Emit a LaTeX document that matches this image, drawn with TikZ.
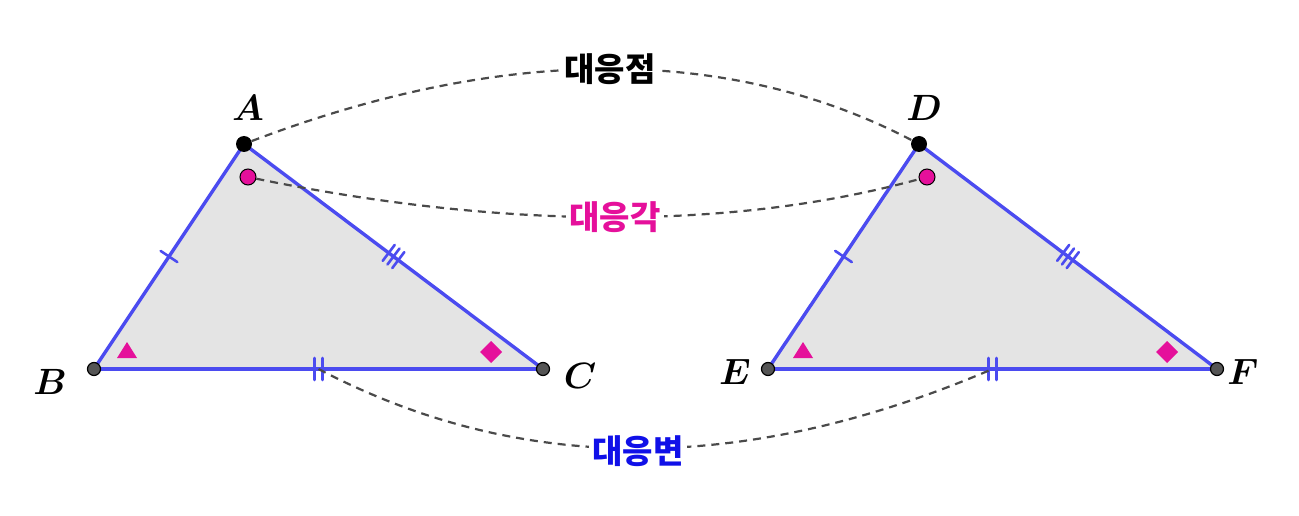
\documentclass[tikz,border=0pt]{standalone}
\usepackage{fontspec}
\usepackage{bm}
\usepackage{graphicx}
\newfontfamily\cjk{Noto Sans CJK KR}
\usetikzlibrary{decorations.markings,calc}
\definecolor{edgeblue}{HTML}{4B4BF0}
\definecolor{fillgray}{HTML}{E4E4E4}
\definecolor{angpink}{HTML}{E5109B}
\definecolor{sideblue}{HTML}{1010E8}
\definecolor{dashgray}{HTML}{4A4A4A}
\definecolor{ptgray}{HTML}{555555}
\newcommand{\vlab}[1]{\scalebox{1.47}{\fontsize{24.88}{28}\selectfont$\bm{#1}$}}
\tikzset{
  edge/.style={draw=edgeblue, line width=3.4pt, line cap=round},
  tickline/.style={draw=edgeblue, line width=2.6pt},
  tickone/.style={postaction={decorate, decoration={markings, mark=at position 0.5 with {\draw[tickline] (0,-10) -- (0,10);}}}},
  ticktwo/.style={postaction={decorate, decoration={markings, mark=at position 0.5 with {\draw[tickline] (-4,-11) -- (-4,11); \draw[tickline] (4,-11) -- (4,11);}}}},
  tickthree/.style={postaction={decorate, decoration={markings, mark=at position 0.5 with {\draw[tickline] (-6,-10) -- (-6,10); \draw[tickline] (0,-10) -- (0,10); \draw[tickline] (6,-10) -- (6,10);}}}},
  conn/.style={draw=dashgray, dash pattern=on 8pt off 6pt, line width=2.2pt},
  vlabel/.style={inner sep=0pt},
  korlab/.style={font=\cjk\bfseries\fontsize{33}{36}\selectfont, fill=white, inner sep=3pt},
  topdot/.style={circle, fill=black, minimum size=16pt, inner sep=0pt},
  basedot/.style={circle, fill=ptgray, draw=black, line width=1.2pt, minimum size=13pt, inner sep=0pt},
  angdot/.style={circle, fill=angpink, draw=black, line width=1pt, minimum size=16pt, inner sep=0pt},
  angmark/.style={fill=angpink}
}
\begin{document}
\begin{tikzpicture}[x=1pt,y=-1pt]
\useasboundingbox[fill=white] (0,0) rectangle (1299,516);
% vertex coordinates
\coordinate (pA) at (244,144);
\coordinate (pB) at (94,369);
\coordinate (pC) at (543,369);
\coordinate (pD) at (919,144);
\coordinate (pE) at (768,369);
\coordinate (pF) at (1217,369);
% fills
\fill[fillgray] (pA) -- (pB) -- (pC) -- cycle;
\fill[fillgray] (pD) -- (pE) -- (pF) -- cycle;
% angle markers
\node[angdot] (angA) at (248,177) {};
\node[angdot] (angD) at (927,177) {};
\fill[angmark] (117,358) -- (137,358) -- (127,342) -- cycle;
\fill[angmark] (491,341) -- (502,352) -- (491,363) -- (480,352) -- cycle;
\fill[angmark] (793,358) -- (813,358) -- (803,342) -- cycle;
\fill[angmark] (1167,341) -- (1178,352) -- (1167,363) -- (1156,352) -- cycle;
% midpoints
\coordinate (mBC) at ($(pB)!0.5!(pC)$);
\coordinate (mEF) at ($(pE)!0.5!(pF)$);
% edges
\draw[edge, tickone] (pB) -- (pA);
\draw[edge, tickthree] (pA) -- (pC);
\draw[edge, ticktwo] (pB) -- (pC);
\draw[edge, tickone] (pE) -- (pD);
\draw[edge, tickthree] (pD) -- (pF);
\draw[edge, ticktwo] (pE) -- (pF);
% vertex dots
\node[topdot] (A) at (pA) {};
\node[topdot] (D) at (pD) {};
\node[basedot] (B) at (pB) {};
\node[basedot] (C) at (pC) {};
\node[basedot] (E) at (pE) {};
\node[basedot] (F) at (pF) {};
% dashed connectors
\draw[conn] (A) .. controls (504,45) and (729,45) .. (D);
\draw[conn] (angA) .. controls (507,230) and (733,230) .. (angD);
\draw[conn] (mBC) .. controls (520,475) and (745,475) .. (mEF);
% connector labels
\node[korlab, text=black] (lpt) at (610,69) {대응점};
\node[korlab, text=angpink] (lang) at (615,217) {대응각};
\node[korlab, text=sideblue] (lside) at (638,451) {대응변};
% vertex labels
\node[vlabel] (lA) at (248,108) {\vlab{A}};
\node[vlabel] (lB) at (50,382) {\vlab{B}};
\node[vlabel] (lC) at (580,376) {\vlab{C}};
\node[vlabel] (lD) at (924,108) {\vlab{D}};
\node[vlabel] (lE) at (735,372) {\vlab{E}};
\node[vlabel] (lF) at (1243,372) {\vlab{F}};
\end{tikzpicture}
\end{document}
